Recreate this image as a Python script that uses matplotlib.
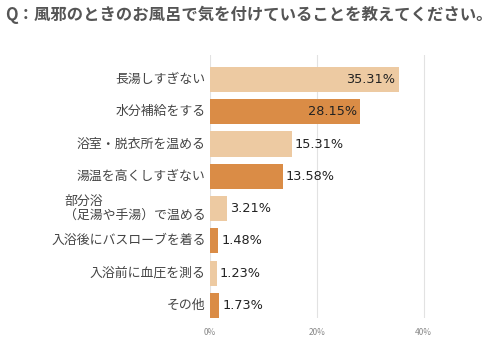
import matplotlib
matplotlib.use("Agg")
import matplotlib.pyplot as plt

plt.rcParams['font.family'] = ['Noto Sans CJK JP', 'DejaVu Sans']

categories = ["長湯しすぎない", "水分補給をする", "浴室・脱衣所を温める", "湯温を高くしすぎない",
              "部分浴\n（足湯や手湯）で温める", "入浴後にバスローブを着る", "入浴前に血圧を測る", "その他"]
values = [35.31, 28.15, 15.31, 13.58, 3.21, 1.48, 1.23, 1.73]
tick_vals = [0, 20, 40]
tick_labels = ["0%", "20%", "40%"]
title = "Q：風邪のときのお風呂で気を付けていることを教えてください。"

light = "#EDCAA2"
dark = "#DA8C46"
colors = [light if i % 2 == 0 else dark for i in range(len(values))]

fig = plt.figure(figsize=(5.03, 3.41), dpi=100)
ax = fig.add_axes([210/503, 1-318/341, (477-210)/503, (318-55)/341])

y = list(range(len(values)))
ax.barh(y, values, height=0.78, color=colors, zorder=3)
ax.set_ylim(7.39, -0.76)
ax.set_xlim(0, 50)
ax.set_xticks(tick_vals)
ax.set_xticklabels(tick_labels, fontsize=6, color="#888888")
ax.set_yticks(y)
ax.set_yticklabels([])
ax.tick_params(axis='both', length=0, pad=7)
for s in ax.spines.values():
    s.set_visible(False)
ax.grid(axis='x', color="#E2E2E2", linewidth=0.8, zorder=0)

for i, (cat, v) in enumerate(zip(categories, values)):
    ax.text(-0.8, i, cat, ha='right', va='center', fontsize=9.3, color="#444444",
            multialignment='left', linespacing=1.05)
    lab = f"{v:.2f}%"
    if v > 20:
        ax.text(v - 0.6, i, lab, ha='right', va='center', fontsize=9.3, color="#222222",
                family='DejaVu Sans')
    else:
        ax.text(v + 0.6, i, lab, ha='left', va='center', fontsize=9.3, color="#222222",
                family='DejaVu Sans')

fig.text(5/503, 1-15/341, title, ha='left', va='center', fontsize=11.8, fontweight='bold',
         color="#555555")

fig.savefig("out.png", dpi=100, facecolor="white")
